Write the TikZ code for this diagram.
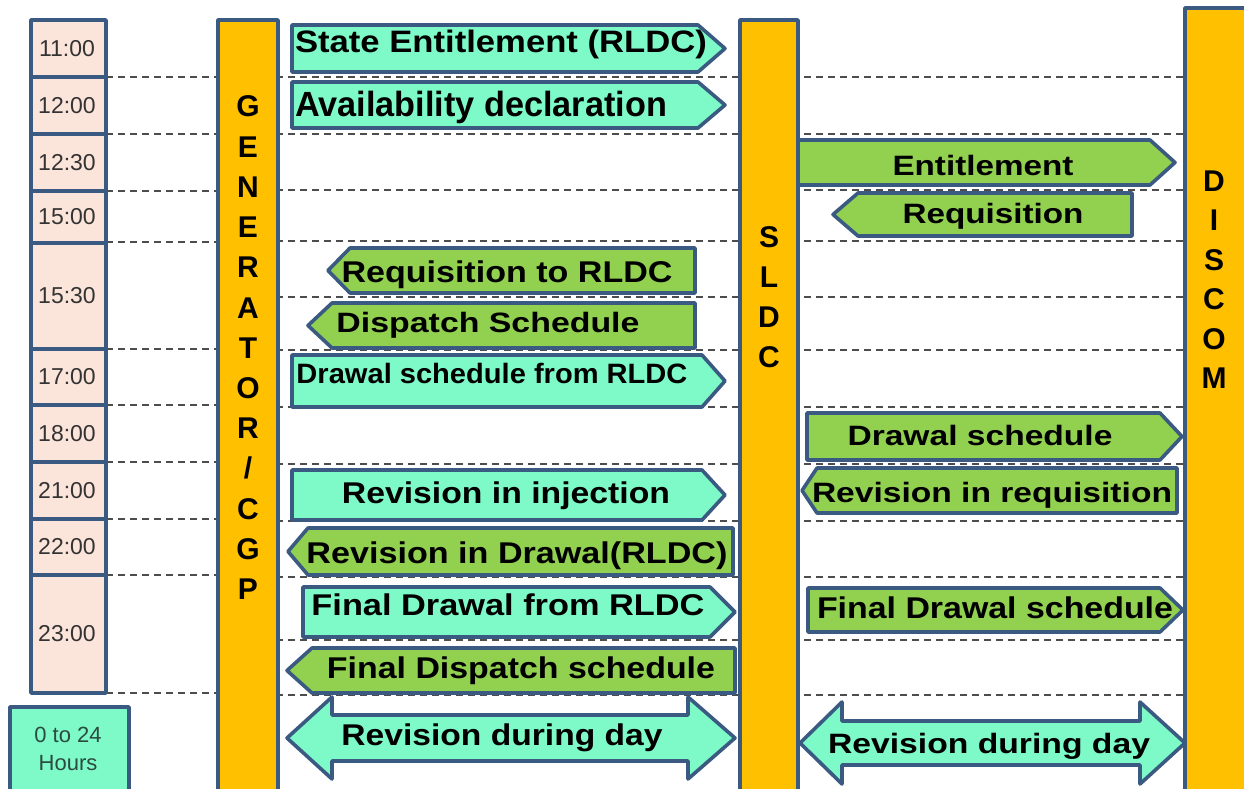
\documentclass[tikz,border=0pt]{standalone}
\usepackage{fontspec}
\setmainfont{Liberation Sans}
\usepackage{graphicx}

\definecolor{edgeblue}{HTML}{3B5A82}
\definecolor{barorange}{HTML}{FFC000}
\definecolor{aqua}{HTML}{7DFAC8}
\definecolor{leaf}{HTML}{92D050}
\definecolor{slotpink}{HTML}{FBE4DA}
\definecolor{gridgray}{HTML}{4D4D4D}
\definecolor{slottext}{HTML}{333333}
\definecolor{hourtext}{HTML}{2B4A40}

% label text: bold, given size, stretched horizontally to a given width
\newcommand\lab[3]{\resizebox{#1pt}{\height}{\fontsize{#2}{#2}\selectfont\bfseries #3}}

% block arrow pointing right: style, left x, top y, body right x, tip x, bottom y
\newcommand\ShapeRight[6]{\draw[#1] (#2,#3) -- (#4,#3) -- (#5,{(#3+#6)/2}) -- (#4,#6) -- (#2,#6) -- cycle;}
% block arrow pointing left: style, tip x, top y, body left x, right x, bottom y
\newcommand\ShapeLeft[6]{\draw[#1] (#2,{(#3+#6)/2}) -- (#4,#3) -- (#5,#3) -- (#5,#6) -- (#4,#6) -- cycle;}
% double-headed block arrow: style, left tip, left back, right back, right tip, mid y, head half, shaft half
\newcommand\ShapeBoth[8]{\draw[#1] (#2,#6) -- (#3,{#6-#7}) -- (#3,{#6-#8}) -- (#4,{#6-#8}) -- (#4,{#6-#7})
  -- (#5,#6) -- (#4,{#6+#7}) -- (#4,{#6+#8}) -- (#3,{#6+#8}) -- (#3,{#6+#7}) -- cycle;}

\begin{document}
\begin{tikzpicture}[x=1pt,y=-1pt,
  outline/.style={draw=edgeblue,line width=3.6pt,line join=round},
  aquabox/.style={outline,fill=aqua},
  leafbox/.style={outline,fill=leaf},
  barbox/.style={outline,fill=barorange},
  slotbox/.style={outline,fill=slotpink},
  grid/.style={draw=gridgray,line width=1.2pt,dash pattern=on 7pt off 5pt},
  lbl/.style={anchor=base,inner sep=0pt,text=black},
  barletter/.style={anchor=base,inner sep=0pt,font=\fontsize{30}{30}\selectfont\bfseries},
  slotlabel/.style={inner sep=0pt,text=slottext,font=\fontsize{23}{23}\selectfont}]

\useasboundingbox (0,0) rectangle (1244,789);
\clip (0,0) rectangle (1244,789);
\fill[white] (0,0) rectangle (1244,789);

% dashed time rules
\foreach \yy in {77,134,191,242,349,405,462,519,575,693}
  \draw[grid] (106,\yy) -- (220,\yy);
\foreach \yy in {77,134,190,241,297,350,407,464,521,577,640,695}
  \draw[grid] (276,\yy) -- (1187,\yy);

% time slots
\foreach \ta/\tb/\tx [count=\i] in {20/77/11:00,77/134/12:00,134/191/12:30,191/243/15:00,
    243/349/15:30,349/405/17:00,405/462/18:00,462/519/21:00,519/575/22:00,575/693/23:00}{
  \draw[slotbox] (31,\ta) rectangle (106,\tb);
  \node[slotlabel] (slot\i) at (67,{(\ta+\tb)/2}) {\tx};
}

% all-day slot
\draw[aquabox] (10,707) rectangle (129,800);
\node[inner sep=0pt,align=center,text=hourtext,font=\fontsize{22}{28}\selectfont] (hours) at (68,749) {0 to 24\\Hours};

% parties
\draw[barbox] (218,20) rectangle (278,800);
\draw[barbox] (740,20) rectangle (798,800);
\draw[barbox] (1185,8) rectangle (1250,800);
\foreach \ch [count=\i] in {G,E,N,E,R,A,T,O,R,/,C,G,P}
  \node[barletter] (gen\i) at (248,{117+(\i-1)*40.2}) {\ch};
\foreach \ch [count=\i] in {S,L,D,C}
  \node[barletter] (sldc\i) at (769,{247+(\i-1)*40}) {\ch};
\foreach \ch [count=\i] in {D,I,S,C,O,M}
  \node[barletter] (discom\i) at (1214,{191+(\i-1)*39.5}) {\ch};

% generator <-> SLDC messages
\ShapeRight{aquabox}{292}{25}{698}{725}{72}
\node[lbl] (m1) at (501,53) {\lab{412}{31}{State Entitlement (RLDC)}};
\ShapeRight{aquabox}{292}{82}{698}{725}{128}
\node[lbl] (m2) at (481,117) {\lab{372}{35}{Availability declaration}};
\ShapeLeft{leafbox}{328}{248}{350}{695}{293}
\node[lbl] (m5) at (507,282) {\lab{331}{30}{Requisition to RLDC}};
\ShapeLeft{leafbox}{308}{303}{332}{695}{348}
\node[lbl] (m6) at (488,332) {\lab{303}{28}{Dispatch Schedule}};
\ShapeRight{aquabox}{292}{355}{702}{725}{407}
\node[lbl] (m7) at (492,383) {\lab{391}{28}{Drawal schedule from RLDC}};
\ShapeRight{aquabox}{292}{470}{702}{725}{520}
\node[lbl] (m8) at (506,503) {\lab{328}{30}{Revision in injection}};
\ShapeLeft{leafbox}{288}{528}{308}{733}{575}
\node[lbl] (m9) at (517,563) {\lab{421}{30}{Revision in Drawal(RLDC)}};
\ShapeRight{aquabox}{303}{587}{710}{735}{637}
\node[lbl] (m10) at (508,615) {\lab{393}{30}{Final Drawal from RLDC}};
\ShapeLeft{leafbox}{287}{648}{312}{735}{693}
\node[lbl] (m11) at (521,678) {\lab{388}{30}{Final Dispatch schedule}};
\ShapeBoth{aquabox}{287}{332}{688}{735}{738}{41}{23}
\node[lbl] (m12) at (502,745) {\lab{321}{30}{Revision during day}};

% SLDC <-> DISCOM messages
\ShapeRight{leafbox}{798}{140}{1150}{1175}{185}
\node[lbl] (m3) at (983,175) {\lab{181}{28}{Entitlement}};
\ShapeLeft{leafbox}{833}{193}{858}{1132}{236}
\node[lbl] (m4) at (993,223) {\lab{181}{28}{Requisition}};
\ShapeRight{leafbox}{807}{413}{1160}{1182}{460}
\node[lbl] (m13) at (980,445) {\lab{265}{28}{Drawal schedule}};
\ShapeLeft{leafbox}{802}{468}{817}{1177}{513}
\node[lbl] (m14) at (992,502) {\lab{360}{28}{Revision in requisition}};
\ShapeRight{leafbox}{808}{588}{1160}{1183}{632}
\node[lbl] (m15) at (995,618) {\lab{356}{30}{Final Drawal schedule}};
\ShapeBoth{aquabox}{800}{842}{1140}{1185}{743}{41}{22}
\node[lbl] (m16) at (989,753) {\lab{322}{28}{Revision during day}};

\end{tikzpicture}
\end{document}
